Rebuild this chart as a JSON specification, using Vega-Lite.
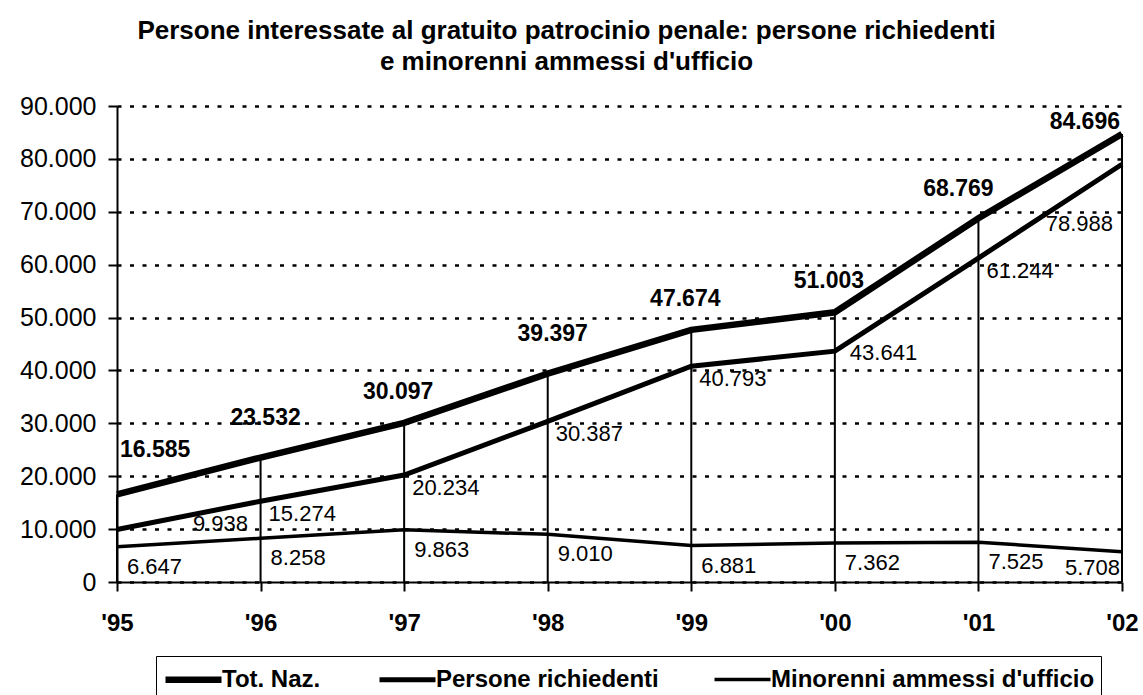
{
  "$schema": "https://vega.github.io/schema/vega-lite/v6.json",
  "width": 1005,
  "height": 476,
  "autosize": {"type": "none"},
  "padding": {"left": 117, "top": 106, "right": 21, "bottom": 113},
  "background": "white",
  "config": {
    "locale": {"number": {"decimal": ",", "thousands": ".", "grouping": [3], "currency": ["€", ""]}},
    "font": "Liberation Sans",
    "view": {"stroke": null}
  },
  "title": {
    "text": ["Persone interessate al gratuito patrocinio penale: persone richiedenti", "e minorenni ammessi d'ufficio"],
    "fontSize": 26,
    "fontWeight": "bold",
    "font": "Liberation Sans",
    "color": "black",
    "anchor": "middle",
    "dx": -53,
    "lineHeight": 31,
    "offset": 19
  },
  "data": {
    "values": [
      {"anno": "'95", "serie": "Tot. Naz.", "valore": 16585},
      {"anno": "'96", "serie": "Tot. Naz.", "valore": 23532},
      {"anno": "'97", "serie": "Tot. Naz.", "valore": 30097},
      {"anno": "'98", "serie": "Tot. Naz.", "valore": 39397},
      {"anno": "'99", "serie": "Tot. Naz.", "valore": 47674},
      {"anno": "'00", "serie": "Tot. Naz.", "valore": 51003},
      {"anno": "'01", "serie": "Tot. Naz.", "valore": 68769},
      {"anno": "'02", "serie": "Tot. Naz.", "valore": 84696},
      {"anno": "'95", "serie": "Persone richiedenti", "valore": 9938},
      {"anno": "'96", "serie": "Persone richiedenti", "valore": 15274},
      {"anno": "'97", "serie": "Persone richiedenti", "valore": 20234},
      {"anno": "'98", "serie": "Persone richiedenti", "valore": 30387},
      {"anno": "'99", "serie": "Persone richiedenti", "valore": 40793},
      {"anno": "'00", "serie": "Persone richiedenti", "valore": 43641},
      {"anno": "'01", "serie": "Persone richiedenti", "valore": 61244},
      {"anno": "'02", "serie": "Persone richiedenti", "valore": 78988},
      {"anno": "'95", "serie": "Minorenni ammessi d'ufficio", "valore": 6647},
      {"anno": "'96", "serie": "Minorenni ammessi d'ufficio", "valore": 8258},
      {"anno": "'97", "serie": "Minorenni ammessi d'ufficio", "valore": 9863},
      {"anno": "'98", "serie": "Minorenni ammessi d'ufficio", "valore": 9010},
      {"anno": "'99", "serie": "Minorenni ammessi d'ufficio", "valore": 6881},
      {"anno": "'00", "serie": "Minorenni ammessi d'ufficio", "valore": 7362},
      {"anno": "'01", "serie": "Minorenni ammessi d'ufficio", "valore": 7525},
      {"anno": "'02", "serie": "Minorenni ammessi d'ufficio", "valore": 5708}
    ]
  },
  "encoding": {
    "x": {
      "field": "anno",
      "type": "ordinal",
      "sort": null,
      "scale": {"type": "point", "padding": 0},
      "axis": {
        "title": null,
        "labelAngle": 0,
        "labelFontSize": 24,
        "labelFontWeight": "bold",
        "labelColor": "black",
        "labelPadding": 20,
        "tickSize": 9,
        "tickWidth": 2,
        "tickColor": "black",
        "domainColor": "black",
        "domainWidth": 2,
        "grid": false
      }
    },
    "y": {
      "field": "valore",
      "type": "quantitative",
      "scale": {"domain": [0, 90000], "nice": false},
      "axis": {
        "title": null,
        "values": [0, 10000, 20000, 30000, 40000, 50000, 60000, 70000, 80000, 90000],
        "format": ",d",
        "labelFontSize": 25,
        "labelColor": "black",
        "labelPadding": 12,
        "tickSize": 9,
        "tickWidth": 2,
        "tickColor": "black",
        "domainColor": "black",
        "domainWidth": 2,
        "grid": true,
        "gridColor": "black",
        "gridWidth": 2.5,
        "gridDash": [4, 8.5]
      }
    }
  },
  "layer": [
    {
      "transform": [{"filter": {"field": "serie", "equal": "Tot. Naz."}}],
      "mark": {"type": "rule", "color": "black", "strokeWidth": 2},
      "encoding": {"y2": {"datum": 0}}
    },
    {
      "mark": {"type": "line", "color": "black"},
      "encoding": {
        "detail": {"field": "serie"},
        "strokeWidth": {
          "field": "serie",
          "type": "ordinal",
          "scale": {"domain": ["Tot. Naz.", "Persone richiedenti", "Minorenni ammessi d'ufficio"], "range": [6.5, 3.5, 1.5]},
          "legend": {
            "title": null,
            "orient": "none",
            "legendX": 39,
            "legendY": 550,
            "direction": "horizontal",
            "columns": 3,
            "symbolType": "M-2,0H2",
            "symbolSize": 784,
            "symbolOffset": 14,
            "symbolStrokeColor": "black",
            "symbolFillColor": "transparent",
            "labelFontSize": 24,
            "labelFontWeight": "bold",
            "labelColor": "black",
            "labelFont": "Liberation Sans",
            "labelLimit": 500,
            "labelOffset": 11,
            "columnPadding": 48,
            "padding": 6,
            "strokeColor": "black"
          }
        }
      }
    },
    {
      "transform": [{"filter": {"and": [{"field": "serie", "equal": "Tot. Naz."}, {"field": "anno", "equal": "'95"}]}}],
      "mark": {"type": "text", "align": "left", "baseline": "middle", "dx": 3, "dy": -44, "fontSize": 23, "fontWeight": "bold", "color": "black"},
      "encoding": {"text": {"field": "valore", "type": "quantitative", "format": ",d"}}
    },
    {
      "transform": [{"filter": {"and": [{"field": "serie", "equal": "Tot. Naz."}, {"field": "anno", "oneOf": ["'96", "'98"]}]}}],
      "mark": {"type": "text", "align": "center", "baseline": "middle", "dx": 5, "dy": -40, "fontSize": 23, "fontWeight": "bold", "color": "black"},
      "encoding": {"text": {"field": "valore", "type": "quantitative", "format": ",d"}}
    },
    {
      "transform": [{"filter": {"and": [{"field": "serie", "equal": "Tot. Naz."}, {"field": "anno", "oneOf": ["'97", "'99", "'00"]}]}}],
      "mark": {"type": "text", "align": "center", "baseline": "middle", "dx": -6, "dy": -31, "fontSize": 23, "fontWeight": "bold", "color": "black"},
      "encoding": {"text": {"field": "valore", "type": "quantitative", "format": ",d"}}
    },
    {
      "transform": [{"filter": {"and": [{"field": "serie", "equal": "Tot. Naz."}, {"field": "anno", "equal": "'01"}]}}],
      "mark": {"type": "text", "align": "center", "baseline": "middle", "dx": -20, "dy": -29, "fontSize": 23, "fontWeight": "bold", "color": "black"},
      "encoding": {"text": {"field": "valore", "type": "quantitative", "format": ",d"}}
    },
    {
      "transform": [{"filter": {"and": [{"field": "serie", "equal": "Tot. Naz."}, {"field": "anno", "equal": "'02"}]}}],
      "mark": {"type": "text", "align": "right", "baseline": "middle", "dx": -2, "dy": -12, "fontSize": 23, "fontWeight": "bold", "color": "black"},
      "encoding": {"text": {"field": "valore", "type": "quantitative", "format": ",d"}}
    },
    {
      "transform": [{"filter": {"and": [{"field": "serie", "equal": "Persone richiedenti"}, {"field": "anno", "equal": "'95"}]}}],
      "mark": {"type": "text", "align": "left", "baseline": "middle", "dx": 76, "dy": -5, "fontSize": 22, "color": "black"},
      "encoding": {"text": {"field": "valore", "type": "quantitative", "format": ",d"}}
    },
    {
      "transform": [{"filter": {"and": [{"field": "serie", "equal": "Persone richiedenti"}, {"field": "anno", "oneOf": ["'96", "'97", "'98", "'99", "'01"]}]}}],
      "mark": {"type": "text", "align": "left", "baseline": "middle", "dx": 8, "dy": 13, "fontSize": 22, "color": "black"},
      "encoding": {"text": {"field": "valore", "type": "quantitative", "format": ",d"}}
    },
    {
      "transform": [{"filter": {"and": [{"field": "serie", "equal": "Persone richiedenti"}, {"field": "anno", "equal": "'00"}]}}],
      "mark": {"type": "text", "align": "left", "baseline": "middle", "dx": 15, "dy": 2, "fontSize": 22, "color": "black"},
      "encoding": {"text": {"field": "valore", "type": "quantitative", "format": ",d"}}
    },
    {
      "transform": [{"filter": {"and": [{"field": "serie", "equal": "Persone richiedenti"}, {"field": "anno", "equal": "'02"}]}}],
      "mark": {"type": "text", "align": "right", "baseline": "middle", "dx": -9, "dy": 60, "fontSize": 22, "color": "black"},
      "encoding": {"text": {"field": "valore", "type": "quantitative", "format": ",d"}}
    },
    {
      "transform": [{"filter": {"and": [{"field": "serie", "equal": "Minorenni ammessi d'ufficio"}, {"not": {"field": "anno", "equal": "'02"}}]}}],
      "mark": {"type": "text", "align": "left", "baseline": "middle", "dx": 10, "dy": 20, "fontSize": 22, "color": "black"},
      "encoding": {"text": {"field": "valore", "type": "quantitative", "format": ",d"}}
    },
    {
      "transform": [{"filter": {"and": [{"field": "serie", "equal": "Minorenni ammessi d'ufficio"}, {"field": "anno", "equal": "'02"}]}}],
      "mark": {"type": "text", "align": "right", "baseline": "middle", "dx": -2, "dy": 16, "fontSize": 22, "color": "black"},
      "encoding": {"text": {"field": "valore", "type": "quantitative", "format": ",d"}}
    }
  ]
}
